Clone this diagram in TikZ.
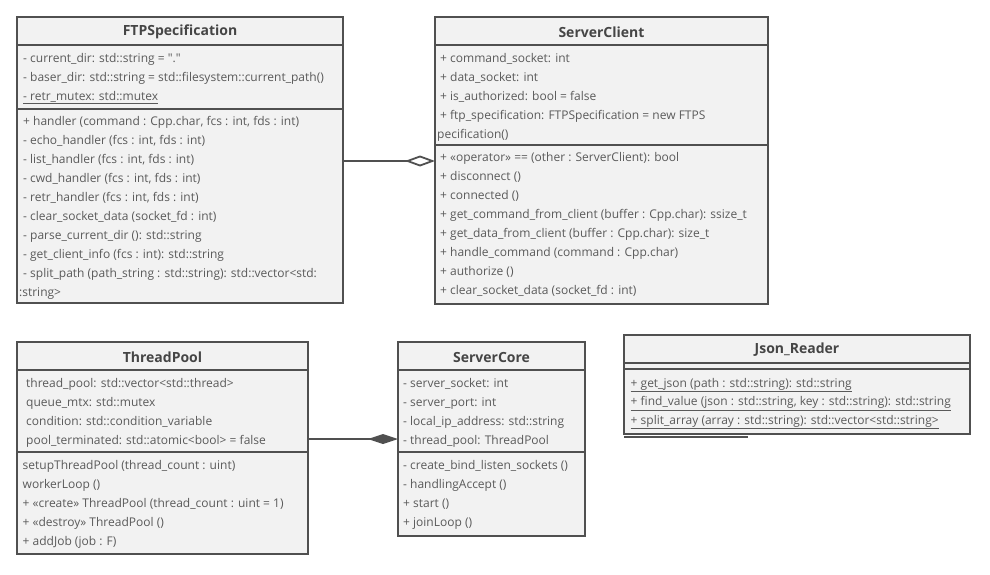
\documentclass[tikz,border=0pt]{standalone}
\usepackage{fontspec}
\setmainfont{Open Sans}[Ligatures=TeXOff]
\usetikzlibrary{arrows.meta,calc}

\definecolor{umlline}{HTML}{505050}
\definecolor{umlfill}{HTML}{F2F2F2}
\definecolor{umltext}{HTML}{5A5A5A}
\definecolor{umltitle}{HTML}{454545}

\pgfdeclarelayer{shadow}
\pgfsetlayers{shadow,main}

\tikzset{
  classbox/.style={draw=umlline, line width=2pt, fill=umlfill, anchor=north west,
    inner sep=0pt, outer sep=0pt},
  classtitle/.style={font=\fontsize{14}{16}\selectfont\bfseries, text=umltitle,
    inner sep=0pt, yshift=-1pt},
  row/.style={font=\fontsize{12}{14}\selectfont, text=umltext, anchor=mid west,
    inner sep=0pt, yshift=-1.5pt},
  divider/.style={draw=umlline, line width=2pt},
  aggregation/.style={draw=umlline, line width=2pt,
    -{Diamond[length=30pt, width=11pt, fill=white, line width=1.8pt]}},
  composition/.style={draw=umlline, line width=2pt,
    -{Diamond[length=30pt, width=10pt, fill=umlline]}},
}

% soft halo behind a class box
\newcommand\softshadow[1]{%
  \begin{pgfonlayer}{shadow}
    \foreach \d in {1,...,7}{%
      \fill[black, opacity=0.022, rounded corners=\d*1pt]
        ($(#1.south west)+(-\d*1pt,-\d*1pt-1.5pt)$) rectangle
        ($(#1.north east)+(\d*1pt,\d*1pt-1.5pt)$);}
  \end{pgfonlayer}}

\begin{document}
\begin{tikzpicture}[x=1pt, y=-1pt]
  \useasboundingbox[fill=white] (0,0) rectangle (990,575);

  % ---------------- FTPSpecification ----------------
  \node[classbox, minimum width=326pt, minimum height=286pt] (ftp) at (17,17) {};
  \softshadow{ftp}
  \draw[divider] (ftp.west |- 0,45) -- (ftp.east |- 0,45);
  \draw[divider] (ftp.west |- 0,109) -- (ftp.east |- 0,109);
  \node[classtitle] (ftp-t) at (180,31) {FTPSpecification};
  \node[row] (ftp-a1) at (23,58) {- current\_dir: std::string = "."};
  \node[row] (ftp-a2) at (23,77) {- baser\_dir: std::string = std::filesystem::current\_path()};
  \node[row] (ftp-a3) at (23,96) {\underline{- retr\_mutex: std::mutex}};
  \node[row] (ftp-m1) at (23,121.5) {+ handler (command : Cpp.char, fcs : int, fds : int)};
  \node[row] (ftp-m2) at (23,140.5) {- echo\_handler (fcs : int, fds : int)};
  \node[row] (ftp-m3) at (23,159.5) {- list\_handler (fcs : int, fds : int)};
  \node[row] (ftp-m4) at (23,178.5) {- cwd\_handler (fcs : int, fds : int)};
  \node[row] (ftp-m5) at (23,197.5) {- retr\_handler (fcs : int, fds : int)};
  \node[row] (ftp-m6) at (23,216.5) {- clear\_socket\_data (socket\_fd : int)};
  \node[row] (ftp-m7) at (23,235.5) {- parse\_current\_dir (): std::string};
  \node[row] (ftp-m8) at (23,254.5) {- get\_client\_info (fcs : int): std::string};
  \node[row] (ftp-m9) at (23,273.5) {- split\_path (path\_string : std::string): std::vector<std:};
  \node[row] (ftp-m9b) at (19,292.5) {:string>};

  % ---------------- ServerClient ----------------
  \node[classbox, minimum width=333pt, minimum height=287pt] (sc) at (435,17) {};
  \softshadow{sc}
  \draw[divider] (sc.west |- 0,45) -- (sc.east |- 0,45);
  \draw[divider] (sc.west |- 0,145) -- (sc.east |- 0,145);
  \node[classtitle] (sc-t) at (601.5,31) {ServerClient};
  \node[row] (sc-a1) at (440,58) {+ command\_socket: int};
  \node[row] (sc-a2) at (440,77) {+ data\_socket: int};
  \node[row] (sc-a3) at (440,96) {+ is\_authorized: bool = false};
  \node[row] (sc-a4) at (440,115) {+ ftp\_specification: FTPSpecification = new FTPS};
  \node[row] (sc-a4b) at (437,134) {pecification()};
  \node[row] (sc-m1) at (440,157) {+ «operator» == (other : ServerClient): bool};
  \node[row] (sc-m2) at (440,176) {+ disconnect ()};
  \node[row] (sc-m3) at (440,195) {+ connected ()};
  \node[row] (sc-m4) at (440,214) {+ get\_command\_from\_client (buffer : Cpp.char): ssize\_t};
  \node[row] (sc-m5) at (440,233) {+ get\_data\_from\_client (buffer : Cpp.char): size\_t};
  \node[row] (sc-m6) at (440,252) {+ handle\_command (command : Cpp.char)};
  \node[row] (sc-m7) at (440,271) {+ authorize ()};
  \node[row] (sc-m8) at (440,290) {+ clear\_socket\_data (socket\_fd : int)};

  % ---------------- ThreadPool ----------------
  \node[classbox, minimum width=291pt, minimum height=212pt] (tp) at (17,342) {};
  \softshadow{tp}
  \draw[divider] (tp.west |- 0,370) -- (tp.east |- 0,370);
  \draw[divider] (tp.west |- 0,452) -- (tp.east |- 0,452);
  \node[classtitle] (tp-t) at (162.5,356) {ThreadPool};
  \node[row] (tp-a1) at (26,383.5) {thread\_pool: std::vector<std::thread>};
  \node[row] (tp-a2) at (26,402.5) {queue\_mtx: std::mutex};
  \node[row] (tp-a3) at (26,421.5) {condition: std::condition\_variable};
  \node[row] (tp-a4) at (26,440.5) {pool\_terminated: std::atomic<bool> = false};
  \node[row] (tp-m1) at (22.5,465) {setupThreadPool (thread\_count : uint)};
  \node[row] (tp-m2) at (22.5,484) {workerLoop ()};
  \node[row] (tp-m3) at (22.5,503) {+ «create» ThreadPool (thread\_count : uint = 1)};
  \node[row] (tp-m4) at (22.5,522) {+ «destroy» ThreadPool ()};
  \node[row] (tp-m5) at (22.5,541) {+ addJob (job : F)};

  % ---------------- ServerCore ----------------
  \node[classbox, minimum width=187pt, minimum height=194pt] (core) at (398,342) {};
  \softshadow{core}
  \draw[divider] (core.west |- 0,370) -- (core.east |- 0,370);
  \draw[divider] (core.west |- 0,452) -- (core.east |- 0,452);
  \node[classtitle] (core-t) at (491.5,356) {ServerCore};
  \node[row] (core-a1) at (403,383.5) {- server\_socket: int};
  \node[row] (core-a2) at (403,402.5) {- server\_port: int};
  \node[row] (core-a3) at (403,421.5) {- local\_ip\_address: std::string};
  \node[row] (core-a4) at (403,440.5) {- thread\_pool: ThreadPool};
  \node[row] (core-m1) at (403,465) {- create\_bind\_listen\_sockets ()};
  \node[row] (core-m2) at (403,484) {- handlingAccept ()};
  \node[row] (core-m3) at (403,503) {+ start ()};
  \node[row] (core-m4) at (403,522) {+ joinLoop ()};

  % ---------------- Json_Reader ----------------
  \node[classbox, minimum width=346pt, minimum height=99pt] (jr) at (624,335) {};
  \softshadow{jr}
  \draw[divider] (jr.west |- 0,363) -- (jr.east |- 0,363);
  \draw[divider] (jr.west |- 0,369) -- (jr.east |- 0,369);
  \draw[divider] ($(jr.south west)+(0,3)$) -- ($(jr.south west)+(124,3)$);
  \node[classtitle] (jr-t) at (797,349) {Json\_Reader};
  \node[row] (jr-m1) at (630.5,383) {\underline{+ get\_json (path : std::string): std::string}};
  \node[row] (jr-m2) at (630.5,401.5) {\underline{+ find\_value (json : std::string, key : std::string): std::string}};
  \node[row] (jr-m3) at (630.5,420) {\underline{+ split\_array (array : std::string): std::vector<std::string>}};

  % ---------------- relations ----------------
  \draw[aggregation] (ftp.east |- 0,161) -- (sc.west |- 0,161);
  \draw[composition] (tp.east |- 0,439) -- (core.west |- 0,439);
\end{tikzpicture}
\end{document}
